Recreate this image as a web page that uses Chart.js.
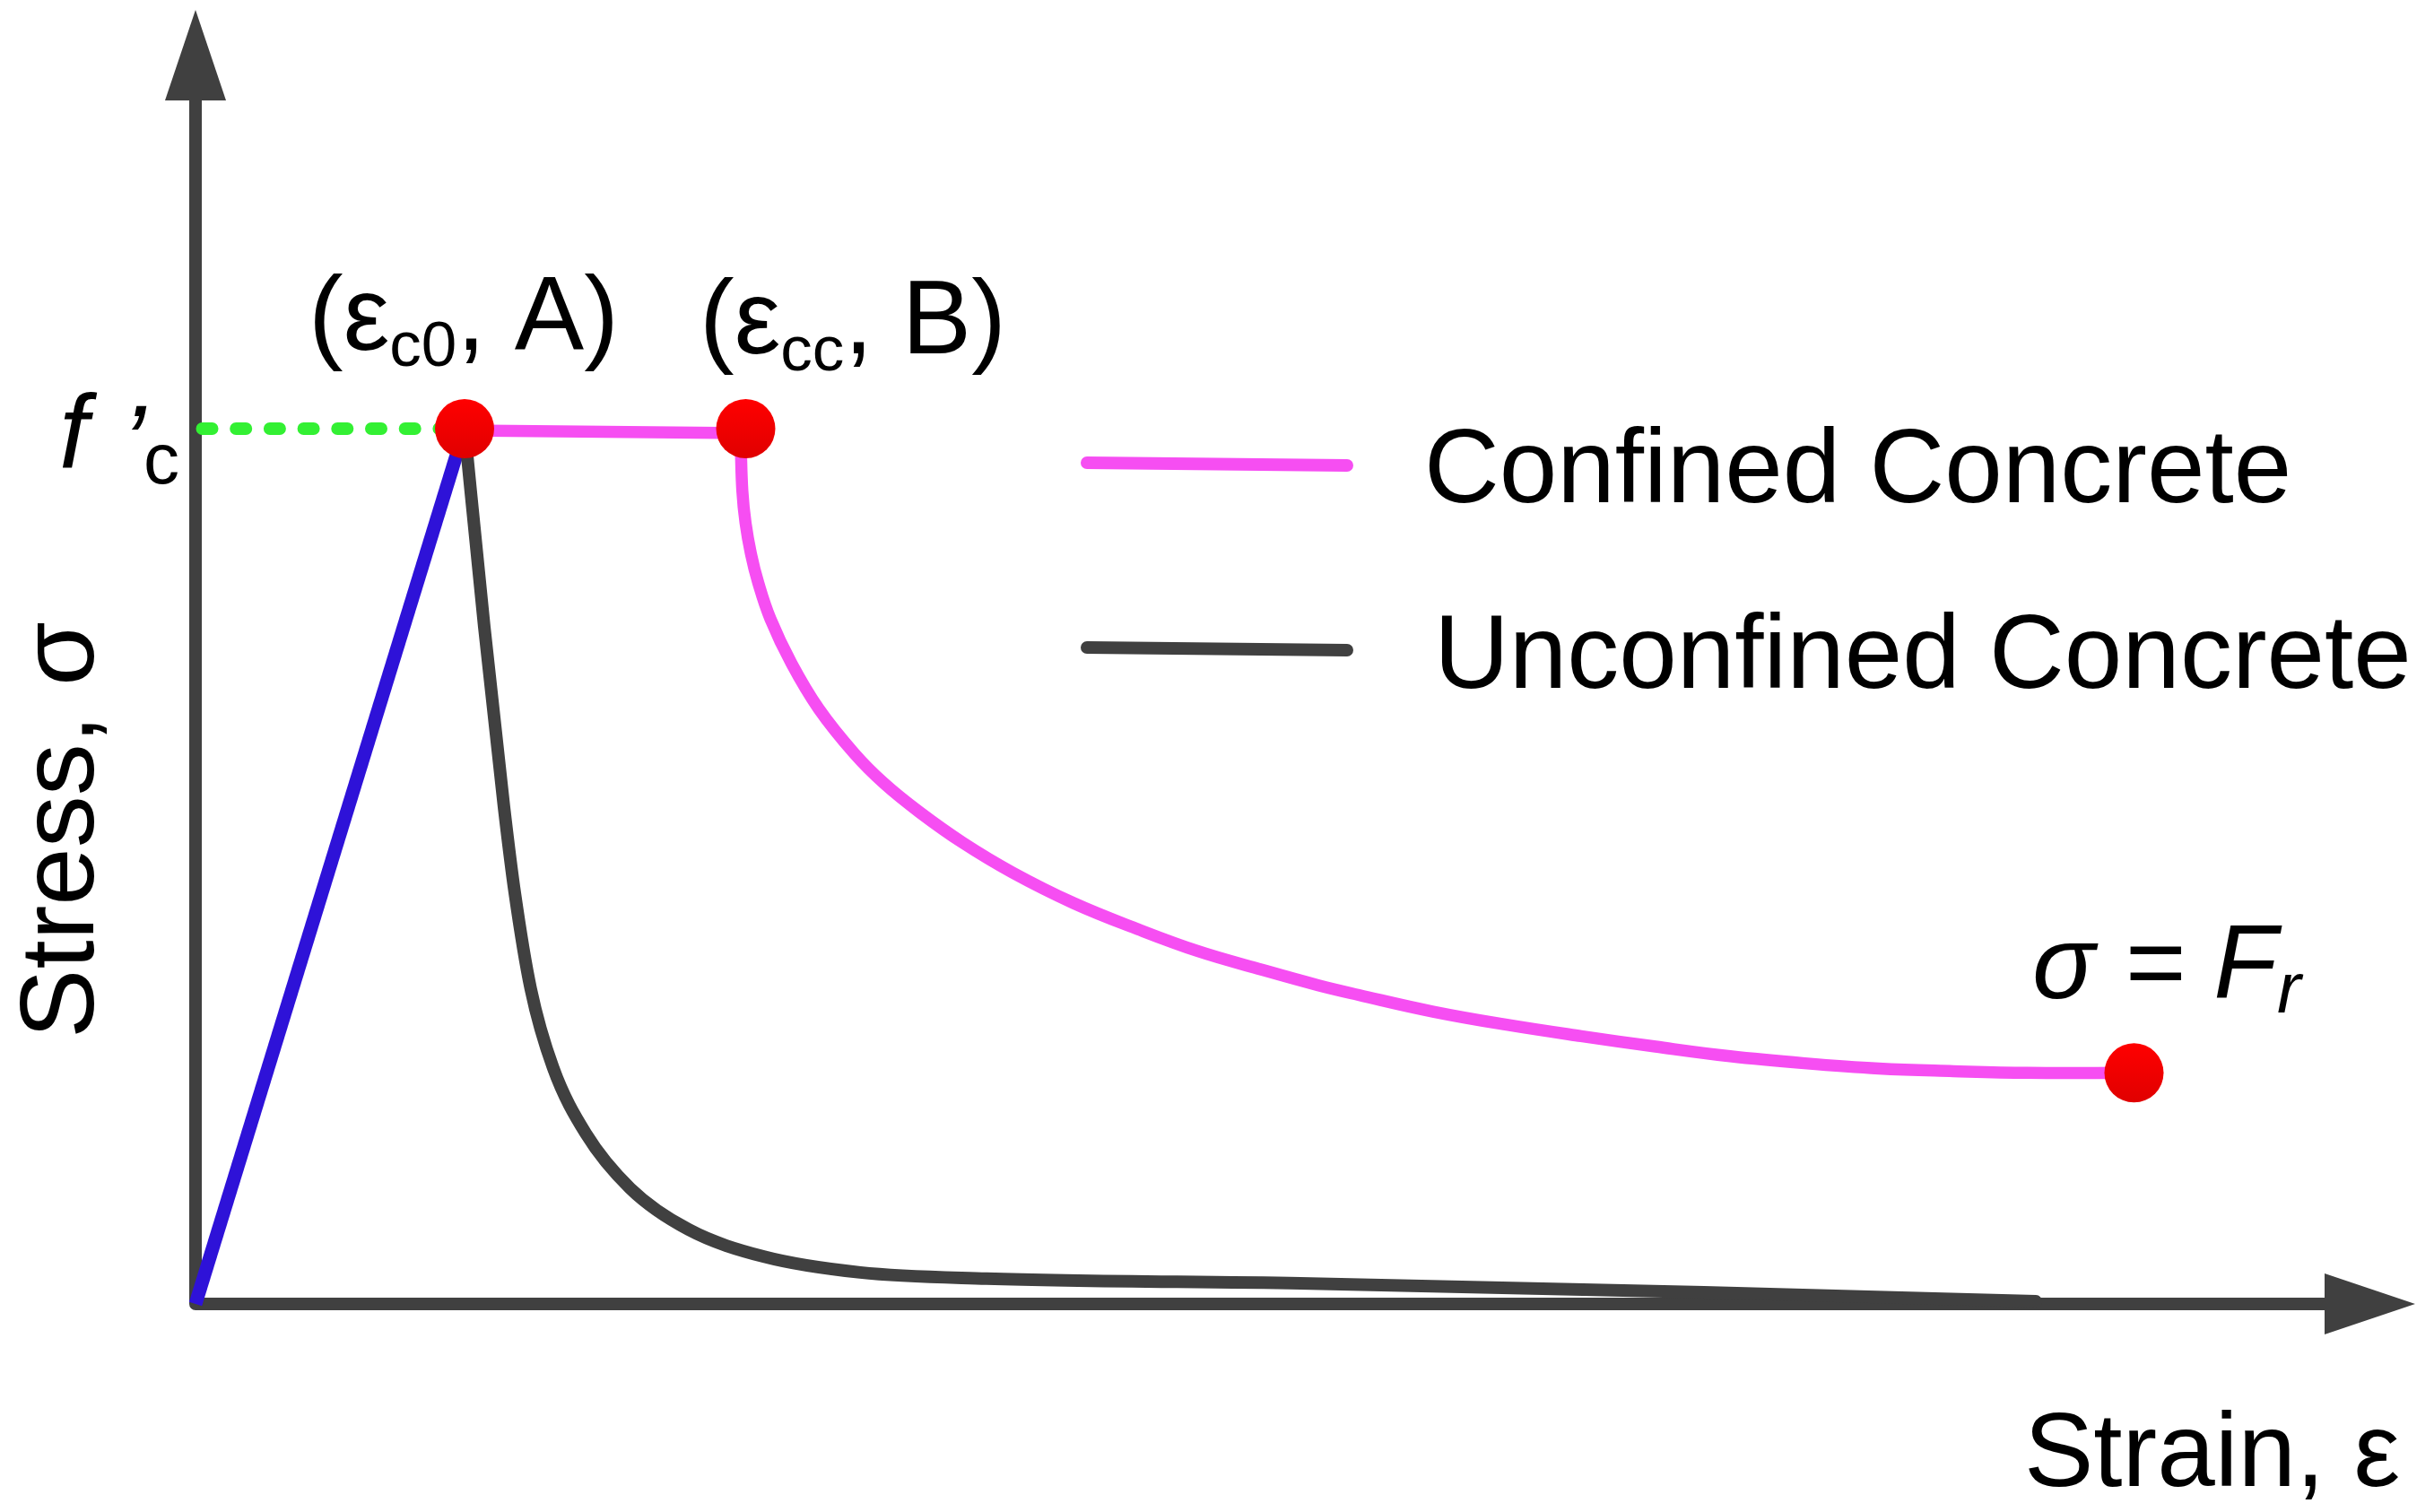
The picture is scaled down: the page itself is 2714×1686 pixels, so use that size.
<!DOCTYPE html>
<html>
<head>
<meta charset="utf-8">
<script src="https://cdn.jsdelivr.net/npm/chart.js@4.4.1/dist/chart.umd.min.js"></script>
<style>
  html, body { margin: 0; padding: 0; background: #ffffff; }
  canvas { display: block; }
</style>
</head>
<body>
<canvas id="chart" width="2714" height="1686"></canvas>
<script>
// ---- data (strain in per-mille, stress normalised by f'c) ----
const loadingStrain = [0, 2.0];
const loadingStress = [0, 1.0];

const fcLineStrain = [0.05, 2.0];
const fcLineStress = [1.0, 1.0];

const plateauStrain = [2.0, 4.09];
const plateauStress = [0.998, 0.995];

const confinedStrain = [4.053, 4.065, 4.089, 4.129, 4.183, 4.273, 4.43, 4.633, 4.897, 5.117, 5.381, 5.703, 6.072, 6.527, 7.007, 7.453, 7.9, 8.347, 8.647, 9.2, 9.747, 10.3, 10.853, 11.407, 11.96, 12.513, 13.067, 13.62, 14.41];
const confinedStress = [0.982, 0.929, 0.892, 0.857, 0.824, 0.783, 0.732, 0.680, 0.629, 0.595, 0.562, 0.527, 0.493, 0.458, 0.428, 0.403, 0.383, 0.364, 0.353, 0.334, 0.319, 0.306, 0.294, 0.283, 0.275, 0.269, 0.266, 0.264, 0.264];

const unconfinedStrain = [2.0, 2.147, 2.293, 2.373, 2.492, 2.658, 2.9, 3.232, 3.666, 4.227, 4.941, 5.88, 8.213, 11.213, 13.68];
const unconfinedStress = [1.0, 0.773, 0.568, 0.470, 0.360, 0.270, 0.195, 0.132, 0.085, 0.054, 0.036, 0.029, 0.0236, 0.0133, 0.003];

const keyStrain = [2.0, 4.09, 14.41];
const keyStress = [1.0, 1.0, 0.264];

const seriesLabels = ['Confined Concrete', 'Unconfined Concrete'];
const xAxisTitle = 'Strain, ε';
const yAxisTitle = 'Stress, σ';

const axisMax = { x: 16.5, y: 1.4785 };

// ---- styles ----
const FONT = '"Liberation Sans", Arial, Helvetica, sans-serif';
const colAxis = '#404040';
const colBlue = '#2e12d8';
const colPink = '#f64ef2';
const colGray = '#404040';
const colGreen = '#33f033';

const xy = (xs, ys) => xs.map((x, i) => ({ x: x, y: ys[i] }));

function redFill(c) {
  const ch = c.chart;
  if (!c.parsed || !ch.scales || !ch.scales.x || !ch.scales.y) return '#f00000';
  const px = ch.scales.x.getPixelForValue(c.parsed.x);
  const py = ch.scales.y.getPixelForValue(c.parsed.y);
  if (!Number.isFinite(px) || !Number.isFinite(py)) return '#f00000';
  const g = ch.ctx.createLinearGradient(px, py - 33, px, py + 33);
  g.addColorStop(0, '#ff0000');
  g.addColorStop(1, '#e00000');
  return g;
}

const arrowAxes = {
  id: 'arrowAxes',
  beforeDatasetsDraw(chart) {
    const { ctx } = chart;
    const sx = chart.scales.x, sy = chart.scales.y;
    const x0 = sx.getPixelForValue(0), y0 = sy.getPixelForValue(0);
    const xEnd = sx.getPixelForValue(sx.max), yEnd = sy.getPixelForValue(sy.max);
    const head = 101, half = 34;
    ctx.save();
    ctx.strokeStyle = colAxis;
    ctx.fillStyle = colAxis;
    ctx.lineWidth = 14;
    ctx.lineJoin = 'round';
    ctx.lineCap = 'butt';
    ctx.beginPath();
    ctx.moveTo(x0, yEnd + head - 2);
    ctx.lineTo(x0, y0);
    ctx.lineTo(xEnd - head + 2, y0);
    ctx.stroke();
    ctx.beginPath();
    ctx.moveTo(x0, yEnd);
    ctx.lineTo(x0 - half, yEnd + head);
    ctx.lineTo(x0 + half, yEnd + head);
    ctx.closePath();
    ctx.fill();
    ctx.beginPath();
    ctx.moveTo(xEnd, y0);
    ctx.lineTo(xEnd - head, y0 - half);
    ctx.lineTo(xEnd - head, y0 + half);
    ctx.closePath();
    ctx.fill();
    ctx.restore();
  }
};

function richText(ctx, x, y, parts) {
  let cx = x;
  parts.forEach(p => {
    ctx.font = (p.italic ? 'italic ' : '') + p.size + 'px ' + FONT;
    ctx.fillText(p.t, cx, y + (p.dy || 0));
    cx += ctx.measureText(p.t).width + (p.after || 0);
  });
}

const textLabels = {
  id: 'textLabels',
  afterDatasetsDraw(chart) {
    const { ctx } = chart;
    ctx.save();
    ctx.fillStyle = '#000000';
    ctx.textBaseline = 'alphabetic';
    ctx.textAlign = 'left';
    // axis titles
    ctx.font = '116px ' + FONT;
    ctx.fillText(xAxisTitle, 2257, 1657);
    ctx.save();
    ctx.translate(104, 925.5);
    ctx.rotate(-Math.PI / 2);
    ctx.textAlign = 'center';
    ctx.fillText(yAxisTitle, 0, 0);
    ctx.restore();
    ctx.textAlign = 'left';
    // point labels
    richText(ctx, 344, 390, [
      { t: '(ε', size: 116 },
      { t: 'c0', size: 71, dy: 18 },
      { t: ', A)', size: 116 }
    ]);
    richText(ctx, 780, 394, [
      { t: '(ε', size: 116 },
      { t: 'cc', size: 71, dy: 19 },
      { t: ', B)', size: 116 }
    ]);
    // f'c
    ctx.font = 'italic 116px ' + FONT;
    ctx.fillText('f', 66, 522);
    ctx.fillText('’', 136, 533);
    ctx.font = '80px ' + FONT;
    ctx.fillText('c', 160, 539);
    // sigma = Fr
    richText(ctx, 2266, 1113, [
      { t: 'σ = F', size: 116, italic: true },
      { t: 'r', size: 80, italic: true, dy: 16 }
    ]);
    ctx.restore();
  }
};

const sideLegend = {
  id: 'sideLegend',
  afterDraw(chart) {
    const { ctx } = chart;
    const rows = [
      { y1: 516, y2: 519, tx: 1588, ty: 560 },
      { y1: 722, y2: 725, tx: 1599, ty: 767 }
    ];
    const items = chart.data.datasets.filter(d => d.inLegend);
    ctx.save();
    items.forEach((d, i) => {
      const r = rows[i];
      ctx.strokeStyle = d.borderColor;
      ctx.lineWidth = 14;
      ctx.lineCap = 'round';
      ctx.beginPath();
      ctx.moveTo(1212, r.y1);
      ctx.lineTo(1502, r.y2);
      ctx.stroke();
      ctx.fillStyle = '#000000';
      ctx.font = '116px ' + FONT;
      ctx.textBaseline = 'alphabetic';
      ctx.fillText(d.label, r.tx, r.ty);
    });
    ctx.restore();
  }
};

const lineBase = { showLine: true, pointRadius: 0, pointHoverRadius: 0, fill: false, clip: false, order: 2 };

new Chart(document.getElementById('chart'), {
  type: 'scatter',
  data: {
    datasets: [
      Object.assign({}, lineBase, {
        label: 'Peak points',
        data: xy(keyStrain, keyStress),
        showLine: false,
        pointRadius: 33,
        pointHoverRadius: 33,
        pointBorderWidth: 0,
        pointBackgroundColor: redFill,
        order: 0
      }),
      Object.assign({}, lineBase, {
        label: seriesLabels[0],
        inLegend: true,
        data: xy(confinedStrain, confinedStress),
        borderColor: colPink,
        borderWidth: 13.5,
        tension: 0.4,
        borderCapStyle: 'round',
        borderJoinStyle: 'round'
      }),
      Object.assign({}, lineBase, {
        label: 'Confined plateau',
        data: xy(plateauStrain, plateauStress),
        borderColor: colPink,
        borderWidth: 13.5,
        tension: 0
      }),
      Object.assign({}, lineBase, {
        label: seriesLabels[1],
        inLegend: true,
        data: xy(unconfinedStrain, unconfinedStress),
        borderColor: colGray,
        borderWidth: 14,
        cubicInterpolationMode: 'monotone',
        borderCapStyle: 'round',
        borderJoinStyle: 'round'
      }),
      Object.assign({}, lineBase, {
        label: 'Loading branch',
        data: xy(loadingStrain, loadingStress),
        borderColor: colBlue,
        borderWidth: 15,
        tension: 0
      }),
      Object.assign({}, lineBase, {
        label: "f'c level",
        data: xy(fcLineStrain, fcLineStress),
        borderColor: colGreen,
        borderWidth: 14,
        borderDash: [11, 26.7],
        borderCapStyle: 'round',
        tension: 0,
        order: 1
      })
    ]
  },
  options: {
    responsive: false,
    maintainAspectRatio: false,
    animation: false,
    devicePixelRatio: 1,
    events: [],
    layout: { autoPadding: false, padding: { left: 218, right: 21, top: 11, bottom: 232 } },
    scales: {
      x: { type: 'linear', min: 0, max: axisMax.x, display: false },
      y: { type: 'linear', min: 0, max: axisMax.y, display: false }
    },
    plugins: {
      legend: { display: false },
      tooltip: { enabled: false },
      title: { display: false }
    }
  },
  plugins: [arrowAxes, textLabels, sideLegend]
});
</script>
</body>
</html>
